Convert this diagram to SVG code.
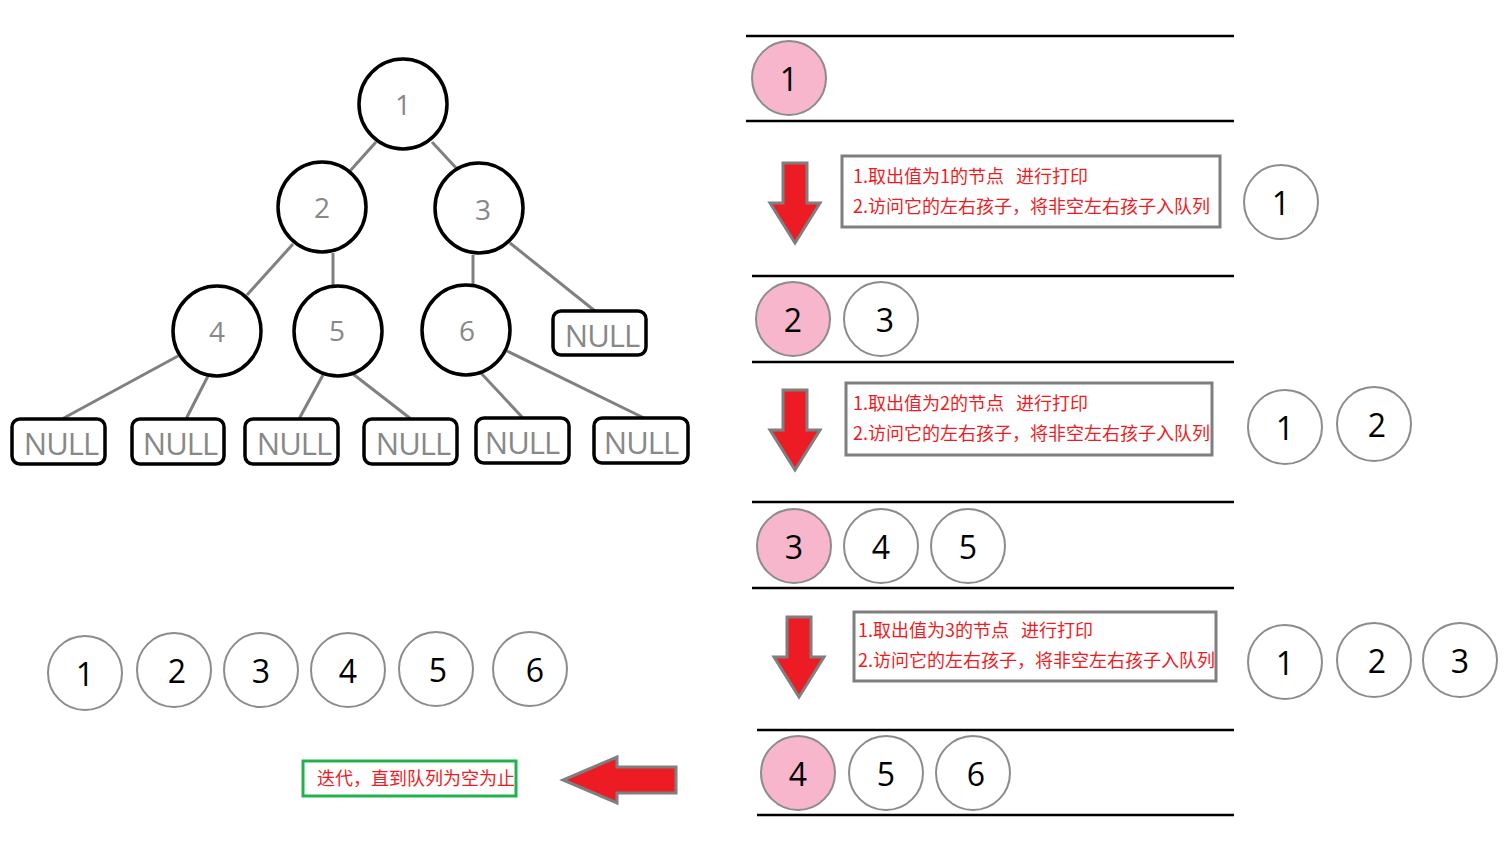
<svg xmlns="http://www.w3.org/2000/svg" width="1510" height="844" viewBox="0 0 1510 844">
<style>
.tn{fill:#fff;stroke:#000;stroke-width:3.5}
.tt{font-family:"Open Sans","Liberation Sans",sans-serif;font-size:28px;fill:#888;text-anchor:middle;dominant-baseline:central}
.nl{font-size:31px;letter-spacing:-1px}
.nb{fill:#fff;stroke:#000;stroke-width:3.5}
.e{stroke:#808080;stroke-width:3;fill:none}
.q{stroke:#000;stroke-width:2.5}
.c{fill:#fff;stroke:#8c8c8c;stroke-width:2}
.p{fill:#f7b6cb;stroke:#8c8c8c;stroke-width:2}
.ct{font-family:"Open Sans","Liberation Sans",sans-serif;font-size:32px;fill:#000;text-anchor:middle;dominant-baseline:central}
.ar{fill:#ed1c24;stroke:#7f7f7f;stroke-width:3}
.bx{fill:#fff;stroke:#7f7f7f;stroke-width:3}
.rt{font-family:"Noto Sans CJK SC","Liberation Sans",sans-serif;font-size:18px;fill:#ed1c24;white-space:pre}
</style>
<g id="edges">
<line class="e" x1="376" y1="142" x2="350" y2="171"/>
<line class="e" x1="432" y1="142" x2="458" y2="170"/>
<line class="e" x1="293" y1="244" x2="247" y2="295"/>
<line class="e" x1="333" y1="253" x2="333" y2="286"/>
<line class="e" x1="473" y1="255" x2="473" y2="285"/>
<line class="e" x1="510" y1="243" x2="595" y2="311"/>
<line class="e" x1="178" y1="356" x2="62" y2="419"/>
<line class="e" x1="208" y1="376" x2="186" y2="419"/>
<line class="e" x1="323" y1="375" x2="299" y2="419"/>
<line class="e" x1="353" y1="374" x2="411" y2="419"/>
<line class="e" x1="480" y1="372" x2="522" y2="417"/>
<line class="e" x1="507" y1="351" x2="644" y2="418"/>
</g>
<g id="n1"><ellipse class="tn" cx="403" cy="104" rx="44" ry="45"/><text class="tt" x="403" y="104">1</text></g>
<g id="n2"><ellipse class="tn" cx="322" cy="207" rx="44" ry="45"/><text class="tt" x="322" y="207">2</text></g>
<g id="n3"><ellipse class="tn" cx="479" cy="208" rx="44" ry="45"/><text class="tt" x="483" y="209">3</text></g>
<g id="n4"><ellipse class="tn" cx="217" cy="331" rx="44" ry="45"/><text class="tt" x="217" y="331">4</text></g>
<g id="n5"><ellipse class="tn" cx="338" cy="331" rx="44" ry="45"/><text class="tt" x="337" y="330">5</text></g>
<g id="n6"><ellipse class="tn" cx="466" cy="330" rx="44" ry="45"/><text class="tt" x="467" y="330">6</text></g>
<g id="null0"><rect class="nb" x="553" y="311" width="93" height="44" rx="8"/><text class="tt nl" x="602" y="335">NULL</text></g>
<g id="null1"><rect class="nb" x="12" y="419" width="93" height="45" rx="8"/><text class="tt nl" x="61" y="443">NULL</text></g>
<g id="null2"><rect class="nb" x="132" y="419" width="92" height="45" rx="8"/><text class="tt nl" x="180" y="443">NULL</text></g>
<g id="null3"><rect class="nb" x="245" y="419" width="93" height="45" rx="8"/><text class="tt nl" x="294" y="443">NULL</text></g>
<g id="null4"><rect class="nb" x="364" y="419" width="93" height="45" rx="8"/><text class="tt nl" x="413" y="443">NULL</text></g>
<g id="null5"><rect class="nb" x="476" y="418" width="93" height="45" rx="8"/><text class="tt nl" x="522" y="442">NULL</text></g>
<g id="null6"><rect class="nb" x="594" y="418" width="94" height="45" rx="8"/><text class="tt nl" x="641" y="442">NULL</text></g>

<g id="queue-lines">
<line class="q" x1="746" y1="36" x2="1234" y2="36"/><line class="q" x1="746" y1="121" x2="1234" y2="121"/>
<line class="q" x1="752" y1="276" x2="1234" y2="276"/><line class="q" x1="752" y1="362" x2="1234" y2="362"/>
<line class="q" x1="752" y1="502" x2="1234" y2="502"/><line class="q" x1="752" y1="588" x2="1234" y2="588"/>
<line class="q" x1="757" y1="730" x2="1234" y2="730"/><line class="q" x1="757" y1="815" x2="1234" y2="815"/>
</g>
<g id="q1"><circle class="p" cx="789" cy="78" r="37"/><text class="ct" x="789" y="78">1</text></g>
<g id="q2"><circle class="p" cx="793" cy="319" r="37"/><text class="ct" x="793" y="319">2</text><circle class="c" cx="881" cy="319" r="37"/><text class="ct" x="885" y="319">3</text></g>
<g id="q3"><circle class="p" cx="794" cy="546" r="37"/><text class="ct" x="794" y="546">3</text><circle class="c" cx="881" cy="546" r="37"/><text class="ct" x="881" y="546">4</text><circle class="c" cx="968" cy="546" r="37"/><text class="ct" x="968" y="546">5</text></g>
<g id="q4"><circle class="p" cx="798" cy="773" r="37"/><text class="ct" x="798" y="773">4</text><circle class="c" cx="886" cy="773" r="37"/><text class="ct" x="886" y="773">5</text><circle class="c" cx="973" cy="773" r="37"/><text class="ct" x="976" y="773">6</text></g>

<g id="arrows">
<polygon class="ar" points="783,163 807,163 807,203 820,203 795,243 770,203 783,203"/>
<polygon class="ar" points="783,390 807,390 807,430 820,430 795,470 770,430 783,430"/>
<polygon class="ar" points="787,617 811,617 811,657 824,657 799,697 774,657 787,657"/>
<polygon class="ar" points="676,767 676,793 617,793 617,803 563,780 617,757 617,767"/>
</g>

<g id="step1"><rect class="bx" x="842" y="156" width="378" height="71"/>
<text class="rt" x="853" y="183" xml:space="preserve">1.取出值为1的节点   进行打印</text>
<text class="rt" x="853" y="213">2.访问它的左右孩子，将非空左右孩子入队列</text></g>
<g id="step2"><rect class="bx" x="846" y="383" width="366" height="72"/>
<text class="rt" x="853" y="410" xml:space="preserve">1.取出值为2的节点   进行打印</text>
<text class="rt" x="853" y="440">2.访问它的左右孩子，将非空左右孩子入队列</text></g>
<g id="step3"><rect class="bx" x="854" y="612" width="362" height="69"/>
<text class="rt" x="858" y="637" xml:space="preserve">1.取出值为3的节点   进行打印</text>
<text class="rt" x="858" y="667">2.访问它的左右孩子，将非空左右孩子入队列</text></g>

<g id="out1"><circle class="c" cx="1281" cy="202" r="37"/><text class="ct" x="1281" y="202">1</text></g>
<g id="out2"><circle class="c" cx="1285" cy="427" r="37"/><text class="ct" x="1285" y="427">1</text><circle class="c" cx="1374" cy="424" r="37"/><text class="ct" x="1377" y="424">2</text></g>
<g id="out3"><circle class="c" cx="1285" cy="662" r="37"/><text class="ct" x="1285" y="662">1</text><circle class="c" cx="1374" cy="660" r="37"/><text class="ct" x="1377" y="660">2</text><circle class="c" cx="1460" cy="660" r="37"/><text class="ct" x="1460" y="660">3</text></g>

<g id="result">
<circle class="c" cx="85" cy="673" r="37"/><text class="ct" x="85" y="673">1</text>
<circle class="c" cx="174" cy="670" r="37"/><text class="ct" x="177" y="670">2</text>
<circle class="c" cx="261" cy="670" r="37"/><text class="ct" x="261" y="670">3</text>
<circle class="c" cx="348" cy="670" r="37"/><text class="ct" x="348" y="670">4</text>
<circle class="c" cx="436" cy="669" r="37"/><text class="ct" x="438" y="669">5</text>
<circle class="c" cx="530" cy="669" r="37"/><text class="ct" x="535" y="669">6</text>
</g>
<g id="done"><rect x="303" y="761" width="213" height="35" fill="#fff" stroke="#22b14c" stroke-width="3"/>
<text class="rt" x="317" y="785">迭代，直到队列为空为止</text></g>
</svg>
